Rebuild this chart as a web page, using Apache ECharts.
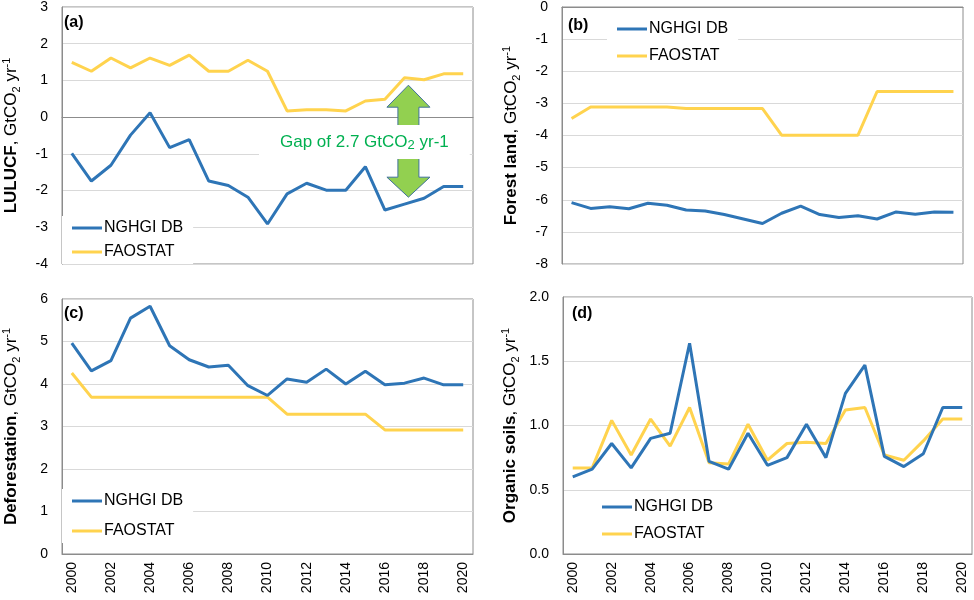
<!DOCTYPE html>
<html>
<head>
<meta charset="utf-8">
<script src="https://cdn.jsdelivr.net/npm/echarts@6/dist/echarts.min.js"></script>
<style>
html,body{margin:0;padding:0;background:#fff;}
#chart{width:974px;height:600px;}
</style>
</head>
<body>
<div id="chart"></div>
<script>
// ---------------- DATA ----------------
const years = ['2000','2001','2002','2003','2004','2005','2006','2007','2008','2009','2010',
               '2011','2012','2013','2014','2015','2016','2017','2018','2019','2020'];
const seriesNames = ['NGHGI DB', 'FAOSTAT'];

// (a) LULUCF
const lulucfNGHGI = [-0.99,-1.74,-1.31,-0.49,0.12,-0.83,-0.61,-1.74,-1.86,-2.18,-2.91,
                     -2.09,-1.80,-1.99,-1.99,-1.35,-2.53,-2.37,-2.21,-1.89,-1.89];
const lulucfFAO   = [1.49,1.25,1.61,1.34,1.61,1.41,1.69,1.25,1.25,1.55,1.25,
                     0.17,0.20,0.20,0.17,0.44,0.49,1.07,1.02,1.18,1.18];
// (b) Forest land
const forestNGHGI = [-6.09,-6.27,-6.22,-6.28,-6.11,-6.17,-6.32,-6.35,-6.46,-6.60,-6.74,
                     -6.42,-6.20,-6.46,-6.55,-6.50,-6.60,-6.38,-6.45,-6.38,-6.39];
const forestFAO   = [-3.47,-3.11,-3.11,-3.11,-3.11,-3.11,-3.16,-3.16,-3.16,-3.16,-3.16,
                     -3.99,-3.99,-3.99,-3.99,-3.99,-2.63,-2.63,-2.63,-2.63,-2.63];
// (c) Deforestation
const deforNGHGI  = [4.96,4.31,4.55,5.55,5.83,4.90,4.57,4.40,4.44,3.96,3.73,
                     4.12,4.04,4.35,4.00,4.30,3.98,4.02,4.14,3.98,3.98];
const deforFAO    = [4.26,3.69,3.69,3.69,3.69,3.69,3.69,3.69,3.69,3.69,3.69,
                     3.29,3.29,3.29,3.29,3.29,2.92,2.92,2.92,2.92,2.92];
// (d) Organic soils
const organicNGHGI = [0.60,0.66,0.86,0.67,0.90,0.94,1.64,0.72,0.66,0.94,0.69,
                      0.75,1.01,0.75,1.25,1.47,0.76,0.68,0.78,1.14,1.14];
const organicFAO   = [0.67,0.67,1.04,0.77,1.05,0.84,1.14,0.71,0.70,1.01,0.73,
                      0.86,0.87,0.86,1.12,1.14,0.77,0.73,0.88,1.05,1.05];

// Panel labels and axis names
const panelLabels = ['(a)', '(b)', '(c)', '(d)'];
const axisBold = ['LULUCF', 'Forest land', 'Deforestation', 'Organic soils'];

// Gap annotation anchor (category index, value at arrow top, value at arrow tip)
const gapArrow = { index: 17.2, top: 0.87, bottom: -2.18 };
const gapText = { index: 14.95, value: -0.68, label: 'Gap of 2.7 GtCO', sub: '2', tail: ' yr-1' };

// ---------------- STYLE ----------------
const FONT = "'Liberation Sans', Arial, 'DejaVu Sans', sans-serif";
const BLUE = '#2E75B6';
const YELLOW = '#FFD34E';
const GRID_LINE = '#D9D9D9';
const BORDER = '#8C8C8C';

const grids = [
  { left: 58,  top: 7,   width: 415, height: 257 },
  { left: 562, top: 7,   width: 401, height: 257 },
  { left: 58,  top: 299, width: 415, height: 255 },
  { left: 563, top: 297, width: 409, height: 257 }
].map(g => Object.assign({ show: true, borderColor: BORDER, borderWidth: 1, backgroundColor: 'transparent' }, g));

const yRanges = [
  { min: -4, max: 3, interval: 1, dec: 0, gap: 40 },
  { min: -8, max: 0, interval: 1, dec: 0, gap: 40 },
  { min: 0,  max: 6, interval: 1, dec: 0, gap: 40 },
  { min: 0,  max: 2, interval: 0.5, dec: 1, gap: 42 }
];

const xAxes = grids.map((g, i) => ({
  type: 'category',
  gridIndex: i,
  data: years,
  boundaryGap: true,
  axisLine: { show: true, lineStyle: { color: BORDER, width: 1 } },
  axisTick: { show: false },
  splitLine: { show: false },
  axisLabel: {
    show: i >= 2,
    interval: 1,
    rotate: 90,
    margin: 8,
    fontSize: 14,
    color: '#000',
    fontFamily: FONT
  }
}));

const yAxes = yRanges.map((r, i) => ({
  type: 'value',
  gridIndex: i,
  min: r.min, max: r.max, interval: r.interval,
  axisLine: { show: true, lineStyle: { color: BORDER, width: 1 } },
  axisTick: { show: false },
  splitLine: { show: true, lineStyle: { color: GRID_LINE, width: 1 } },
  axisLabel: {
    fontSize: 14, color: '#000', fontFamily: FONT, margin: 14,
    formatter: v => r.dec ? v.toFixed(r.dec) : String(v)
  },
  name: '{b|' + axisBold[i] + '}{n|, GtCO}{sub|2}{n| yr}{sup|-1}',
  nameLocation: 'middle',
  nameRotate: 90,
  nameGap: r.gap,
  nameTextStyle: {
    fontFamily: FONT,
    rich: {
      b: { fontSize: 17, fontWeight: 'bold', color: '#000', fontFamily: FONT, lineHeight: 21 },
      n: { fontSize: 17, color: '#000', fontFamily: FONT, lineHeight: 21 },
      sub: { fontSize: 11, color: '#000', fontFamily: FONT, verticalAlign: 'bottom', lineHeight: 21 },
      sup: { fontSize: 11, color: '#000', fontFamily: FONT, verticalAlign: 'top', lineHeight: 21 }
    }
  }
}));

const panelData = [
  [lulucfNGHGI, lulucfFAO],
  [forestNGHGI, forestFAO],
  [deforNGHGI, deforFAO],
  [organicNGHGI, organicFAO]
];
const colors = [BLUE, YELLOW];

const series = [];
panelData.forEach((pair, i) => {
  pair.forEach((vals, k) => {
    series.push({
      name: seriesNames[k],
      type: 'line',
      xAxisIndex: i,
      yAxisIndex: i,
      data: vals,
      symbol: 'none',
      smooth: false,
      color: colors[k],
      lineStyle: { color: colors[k], width: 3 },
      itemStyle: { color: colors[k] },
      z: k === 0 ? 3 : 2,
      animation: false
    });
  });
});

const legendPos = [
  { left: 62,  top: 216, itemGap: 8 },
  { left: 607, top: 17,  itemGap: 11 },
  { left: 62,  top: 489, itemGap: 14 },
  { left: 592, top: 495, itemGap: 11 }
];
const legends = legendPos.map(p => ({
  data: seriesNames,
  orient: 'vertical',
  left: p.left, top: p.top,
  itemGap: p.itemGap,
  icon: 'rect',
  itemWidth: 30, itemHeight: 3,
  padding: [4, 10, 4, 10],
  backgroundColor: '#fff',
  selectedMode: false,
  textStyle: { fontSize: 16, color: '#000', fontFamily: FONT, padding: [0, 0, 0, -3] }
}));

const titlePos = [
  { left: 64, top: 15 },
  { left: 568, top: 18 },
  { left: 64, top: 306 },
  { left: 572, top: 306 }
];
const titles = titlePos.map((p, i) => ({
  text: panelLabels[i],
  left: p.left, top: p.top,
  padding: 0,
  textStyle: { fontSize: 16, fontWeight: 'bold', color: '#000', fontFamily: FONT }
}));

const chart = echarts.init(document.getElementById('chart'), null, { renderer: 'canvas' });
chart.setOption({
  animation: false,
  backgroundColor: '#fff',
  title: titles,
  legend: legends,
  grid: grids,
  xAxis: xAxes,
  yAxis: yAxes,
  series: series
});

// ---------- Gap annotation (positioned through the axes of panel a) ----------
function toPx(idx, val) {
  const i0 = Math.floor(idx), f = idx - i0;
  const p0 = chart.convertToPixel({ xAxisIndex: 0, yAxisIndex: 0 }, [i0, val]);
  const p1 = chart.convertToPixel({ xAxisIndex: 0, yAxisIndex: 0 }, [i0 + 1, val]);
  return [p0[0] + (p1[0] - p0[0]) * f, p0[1]];
}
const tTop = toPx(gapArrow.index, gapArrow.top);
const tBot = toPx(gapArrow.index, gapArrow.bottom);
const cx = tTop[0], yT = tTop[1], yB = tBot[1];
const hh = 21.5, sh = 10.5, ht = 22, hb = 20;
const arrowPts = [
  [cx, yT], [cx + hh, yT + ht], [cx + sh, yT + ht], [cx + sh, yB - hb], [cx + hh, yB - hb],
  [cx, yB], [cx - hh, yB - hb], [cx - sh, yB - hb], [cx - sh, yT + ht], [cx - hh, yT + ht]
];
const tp = toPx(gapText.index, gapText.value);

chart.setOption({
  graphic: [
    {
      type: 'polygon',
      z: 100,
      shape: { points: arrowPts },
      style: { fill: '#92D050', stroke: '#41719C', lineWidth: 1 }
    },
    {
      type: 'text',
      z: 101,
      x: tp[0], y: tp[1],
      style: {
        text: '{n|' + gapText.label + '}{s|' + gapText.sub + '}{n|' + gapText.tail + '}',
        align: 'center',
        verticalAlign: 'middle',
        backgroundColor: '#fff',
        padding: [7, 21, 7, 21],
        fill: '#00B050',
        font: '17px ' + FONT,
        rich: {
          n: { fontSize: 17, fill: '#00B050', fontFamily: FONT, lineHeight: 20 },
          s: { fontSize: 13, fill: '#00B050', fontFamily: FONT, lineHeight: 20, verticalAlign: 'bottom' }
        }
      }
    }
  ]
});
</script>
</body>
</html>
